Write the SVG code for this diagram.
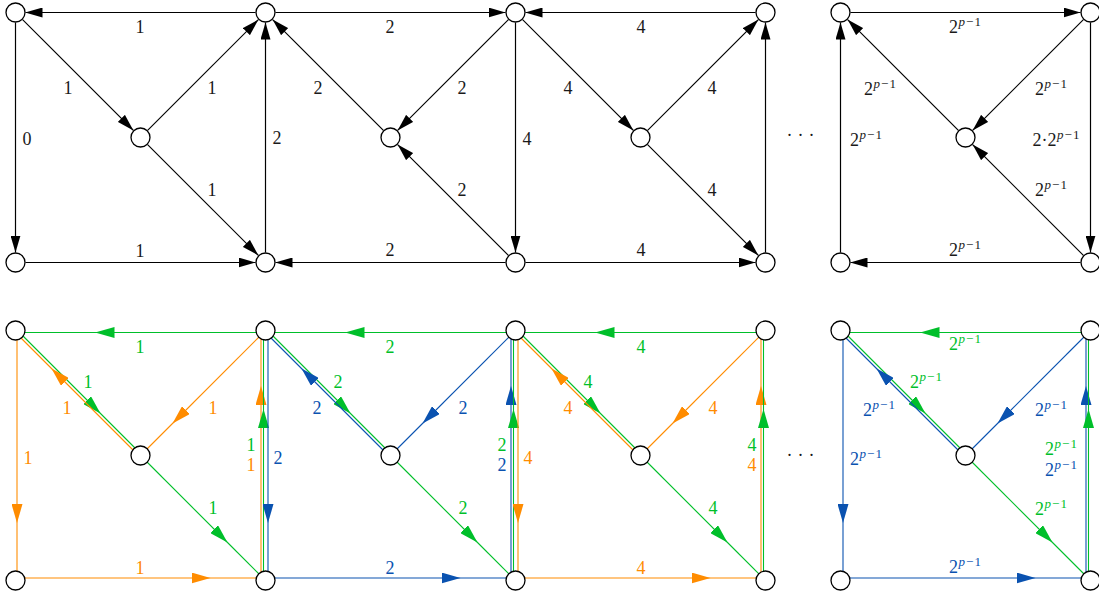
<svg xmlns="http://www.w3.org/2000/svg" width="1099" height="597" viewBox="0 0 1099 597">
<style>
.n{fill:#fff;stroke:#000;stroke-width:1.3}
.e{fill:none;stroke:#000;stroke-width:1.2;marker-end:url(#ab)}
.g,.o,.b{fill:none;stroke-width:1.1}
.g{stroke:#00bf2a;marker-mid:url(#mg)}
.o{stroke:#ff8c00;marker-mid:url(#mo)}
.b{stroke:#0a52b0;marker-mid:url(#mb)}
.tg{fill:#00bf2a}.to{fill:#ff8c00}.tb{fill:#0a52b0}
</style>
<defs>
<marker id="ab" markerUnits="userSpaceOnUse" viewBox="0 0 17 10" markerWidth="17" markerHeight="10" refX="17" refY="5" orient="auto"><path d="M0,0 L17,5 L0,10 z" fill="#000"/></marker>
<marker id="mg" markerUnits="userSpaceOnUse" viewBox="0 0 19 11" markerWidth="19" markerHeight="11" refX="19" refY="5.5" orient="auto"><path d="M0,0 L19,5.5 L0,11 z" fill="#00bf2a"/></marker>
<marker id="mo" markerUnits="userSpaceOnUse" viewBox="0 0 19 11" markerWidth="19" markerHeight="11" refX="19" refY="5.5" orient="auto"><path d="M0,0 L19,5.5 L0,11 z" fill="#ff8c00"/></marker>
<marker id="mb" markerUnits="userSpaceOnUse" viewBox="0 0 19 11" markerWidth="19" markerHeight="11" refX="19" refY="5.5" orient="auto"><path d="M0,0 L19,5.5 L0,11 z" fill="#0a52b0"/></marker>
</defs>

<g id="connectors">
<path class="e" d="M255.5,12.5 L25.5,12.5"/>
<path class="e" d="M15.5,22.5 L15.5,252.5"/>
<path class="e" d="M22.6,19.6 L133.4,130.4"/>
<path class="e" d="M147.6,130.4 L258.4,19.6"/>
<path class="e" d="M147.6,144.6 L258.4,255.4"/>
<path class="e" d="M25.5,262.5 L255.5,262.5"/>
<path class="e" d="M265.5,252.5 L265.5,22.5"/>
<path class="e" d="M275.5,12.5 L505.5,12.5"/>
<path class="e" d="M383.4,130.4 L272.6,19.6"/>
<path class="e" d="M508.4,19.6 L397.6,130.4"/>
<path class="e" d="M508.4,255.4 L397.6,144.6"/>
<path class="e" d="M505.5,262.5 L275.5,262.5"/>
<path class="e" d="M515.5,22.5 L515.5,252.5"/>
<path class="e" d="M755.5,12.5 L525.5,12.5"/>
<path class="e" d="M522.6,19.6 L633.4,130.4"/>
<path class="e" d="M647.6,130.4 L758.4,19.6"/>
<path class="e" d="M647.6,144.6 L758.4,255.4"/>
<path class="e" d="M525.5,262.5 L755.5,262.5"/>
<path class="e" d="M765.5,252.5 L765.5,22.5"/>
<path class="e" d="M850.5,12.5 L1080.5,12.5"/>
<path class="e" d="M958.4,130.4 L847.6,19.6"/>
<path class="e" d="M1083.4,19.6 L972.6,130.4"/>
<path class="e" d="M1090.5,22.5 L1090.5,252.5"/>
<path class="e" d="M1083.4,255.4 L972.6,144.6"/>
<path class="e" d="M1080.5,262.5 L850.5,262.5"/>
<path class="e" d="M840.5,252.5 L840.5,22.5"/>

<path class="g" d="M265.5,332.5 L95.5,332.5 L15.5,332.5"/>
<path class="g" d="M16.5,329.5 L100.5,413.5 L141.5,454.5"/>
<path class="o" d="M139.5,456.5 L51.5,368.5 L14.5,331.5"/>
<path class="o" d="M17,330.5 L17,523 L17,580.5"/>
<path class="o" d="M15.5,578 L210.5,578 L265.5,578"/>
<path class="o" d="M265.5,330.5 L172.5,423.5 L140.5,455.5"/>
<path class="g" d="M140.5,455.5 L227.5,542.5 L265.5,580.5"/>
<path class="o" d="M261,580.5 L261,386 L261,330.5"/>
<path class="g" d="M263.5,580.5 L263.5,409 L263.5,330.5"/>
<path class="g" d="M515.5,332.5 L345.5,332.5 L265.5,332.5"/>
<path class="g" d="M266.5,329.5 L350.5,413.5 L391.5,454.5"/>
<path class="b" d="M389.5,456.5 L301.5,368.5 L264.5,331.5"/>
<path class="b" d="M268,330.5 L268,523 L268,580.5"/>
<path class="b" d="M265.5,578 L460.5,578 L515.5,578"/>
<path class="b" d="M515.5,330.5 L422.5,423.5 L390.5,455.5"/>
<path class="g" d="M390.5,455.5 L477.5,542.5 L515.5,580.5"/>
<path class="b" d="M511,580.5 L511,386 L511,330.5"/>
<path class="g" d="M513.5,580.5 L513.5,409 L513.5,330.5"/>
<path class="g" d="M765.5,332.5 L595.5,332.5 L515.5,332.5"/>
<path class="g" d="M516.5,329.5 L600.5,413.5 L641.5,454.5"/>
<path class="o" d="M639.5,456.5 L551.5,368.5 L514.5,331.5"/>
<path class="o" d="M518,330.5 L518,523 L518,580.5"/>
<path class="o" d="M515.5,578 L710.5,578 L765.5,578"/>
<path class="o" d="M765.5,330.5 L672.5,423.5 L640.5,455.5"/>
<path class="g" d="M640.5,455.5 L727.5,542.5 L765.5,580.5"/>
<path class="o" d="M761,580.5 L761,386 L761,330.5"/>
<path class="g" d="M763.5,580.5 L763.5,409 L763.5,330.5"/>
<path class="g" d="M1090.5,332.5 L920.5,332.5 L840.5,332.5"/>
<path class="g" d="M841.5,329.5 L925.5,413.5 L966.5,454.5"/>
<path class="b" d="M964.5,456.5 L876.5,368.5 L839.5,331.5"/>
<path class="b" d="M843,330.5 L843,523 L843,580.5"/>
<path class="b" d="M840.5,578 L1035.5,578 L1090.5,578"/>
<path class="b" d="M1090.5,330.5 L997.5,423.5 L965.5,455.5"/>
<path class="g" d="M965.5,455.5 L1052.5,542.5 L1090.5,580.5"/>
<path class="b" d="M1086,580.5 L1086,386 L1086,330.5"/>
<path class="g" d="M1088.5,580.5 L1088.5,409 L1088.5,330.5"/>
</g>

<g id="labels" font-family="'Liberation Serif', 'DejaVu Serif', serif" font-size="18" text-anchor="middle" fill="#1a1a1a">
<text x="140" y="32.5">1</text>
<text x="27" y="144.5">0</text>
<text x="68" y="93.5">1</text>
<text x="212" y="93.5">1</text>
<text x="212" y="195.5">1</text>
<text x="140" y="256.5">1</text>
<text x="277" y="143.5">2</text>
<text x="390" y="32.5">2</text>
<text x="318" y="93.5">2</text>
<text x="462" y="93.5">2</text>
<text x="462" y="195.5">2</text>
<text x="390" y="255.5">2</text>
<text x="527" y="144.5">4</text>
<text x="641" y="32.5">4</text>
<text x="568" y="93.5">4</text>
<text x="712" y="93.5">4</text>
<text x="712" y="195.5">4</text>
<text x="641" y="255.5">4</text>
<text x="803" y="141" letter-spacing="5">···</text>
<text x="965" y="33">2<tspan font-size="13" dy="-7.5"><tspan font-style="italic" dx="0.5">p</tspan><tspan dx="1">−</tspan><tspan dx="1">1</tspan></tspan></text>
<text x="880" y="95">2<tspan font-size="13" dy="-7.5"><tspan font-style="italic" dx="0.5">p</tspan><tspan dx="1">−</tspan><tspan dx="1">1</tspan></tspan></text>
<text x="1051" y="95">2<tspan font-size="13" dy="-7.5"><tspan font-style="italic" dx="0.5">p</tspan><tspan dx="1">−</tspan><tspan dx="1">1</tspan></tspan></text>
<text x="866" y="146">2<tspan font-size="13" dy="-7.5"><tspan font-style="italic" dx="0.5">p</tspan><tspan dx="1">−</tspan><tspan dx="1">1</tspan></tspan></text>
<text x="1056" y="146">2·2<tspan font-size="13" dy="-7.5"><tspan font-style="italic" dx="0.5">p</tspan><tspan dx="1">−</tspan><tspan dx="1">1</tspan></tspan></text>
<text x="1051" y="196">2<tspan font-size="13" dy="-7.5"><tspan font-style="italic" dx="0.5">p</tspan><tspan dx="1">−</tspan><tspan dx="1">1</tspan></tspan></text>
<text x="965" y="256">2<tspan font-size="13" dy="-7.5"><tspan font-style="italic" dx="0.5">p</tspan><tspan dx="1">−</tspan><tspan dx="1">1</tspan></tspan></text>

<text class="tg" x="140" y="352.5">1</text>
<text class="tg" x="88" y="387.5">1</text>
<text class="to" x="67" y="413.5">1</text>
<text class="to" x="213" y="413.5">1</text>
<text class="to" x="28" y="463.5">1</text>
<text class="tg" x="213" y="513.5">1</text>
<text class="to" x="140" y="573.5">1</text>
<text class="tg" x="251" y="451">1</text>
<text class="to" x="251" y="471">1</text>
<text class="tb" x="278" y="463.5">2</text>
<text class="tg" x="390" y="352.5">2</text>
<text class="tg" x="338" y="387.5">2</text>
<text class="tb" x="317" y="413.5">2</text>
<text class="tb" x="463" y="413.5">2</text>
<text class="tg" x="463" y="513.5">2</text>
<text class="tb" x="390" y="573.5">2</text>
<text class="tg" x="502" y="451">2</text>
<text class="tb" x="502" y="471">2</text>
<text class="to" x="528" y="463.5">4</text>
<text class="tg" x="641" y="352.5">4</text>
<text class="tg" x="588" y="387.5">4</text>
<text class="to" x="568" y="413.5">4</text>
<text class="to" x="713" y="413.5">4</text>
<text class="tg" x="713" y="513.5">4</text>
<text class="to" x="641" y="573.5">4</text>
<text class="tg" x="752" y="451">4</text>
<text class="to" x="752" y="471">4</text>
<text x="803" y="461" letter-spacing="5">···</text>
<text class="tg" x="965" y="350">2<tspan font-size="13" dy="-7.5"><tspan font-style="italic" dx="0.5">p</tspan><tspan dx="1">−</tspan><tspan dx="1">1</tspan></tspan></text>
<text class="tg" x="926" y="388">2<tspan font-size="13" dy="-7.5"><tspan font-style="italic" dx="0.5">p</tspan><tspan dx="1">−</tspan><tspan dx="1">1</tspan></tspan></text>
<text class="tb" x="879" y="416">2<tspan font-size="13" dy="-7.5"><tspan font-style="italic" dx="0.5">p</tspan><tspan dx="1">−</tspan><tspan dx="1">1</tspan></tspan></text>
<text class="tb" x="1051" y="416">2<tspan font-size="13" dy="-7.5"><tspan font-style="italic" dx="0.5">p</tspan><tspan dx="1">−</tspan><tspan dx="1">1</tspan></tspan></text>
<text class="tb" x="866" y="465">2<tspan font-size="13" dy="-7.5"><tspan font-style="italic" dx="0.5">p</tspan><tspan dx="1">−</tspan><tspan dx="1">1</tspan></tspan></text>
<text class="tg" x="1061" y="455">2<tspan font-size="13" dy="-7.5"><tspan font-style="italic" dx="0.5">p</tspan><tspan dx="1">−</tspan><tspan dx="1">1</tspan></tspan></text>
<text class="tb" x="1061" y="476">2<tspan font-size="13" dy="-7.5"><tspan font-style="italic" dx="0.5">p</tspan><tspan dx="1">−</tspan><tspan dx="1">1</tspan></tspan></text>
<text class="tg" x="1051" y="515">2<tspan font-size="13" dy="-7.5"><tspan font-style="italic" dx="0.5">p</tspan><tspan dx="1">−</tspan><tspan dx="1">1</tspan></tspan></text>
<text class="tb" x="965" y="573">2<tspan font-size="13" dy="-7.5"><tspan font-style="italic" dx="0.5">p</tspan><tspan dx="1">−</tspan><tspan dx="1">1</tspan></tspan></text>
</g>

<g id="nodes">
<g id="t1"><circle class="n" cx="15.5" cy="12.5" r="9.5"/></g>
<g id="t2"><circle class="n" cx="265.5" cy="12.5" r="9.5"/></g>
<g id="t3"><circle class="n" cx="515.5" cy="12.5" r="9.5"/></g>
<g id="t4"><circle class="n" cx="765.5" cy="12.5" r="9.5"/></g>
<g id="t5"><circle class="n" cx="840.5" cy="12.5" r="9.5"/></g>
<g id="t6"><circle class="n" cx="1090.5" cy="12.5" r="9.5"/></g>
<g id="tc1"><circle class="n" cx="140.5" cy="137.5" r="9.5"/></g>
<g id="tc2"><circle class="n" cx="390.5" cy="137.5" r="9.5"/></g>
<g id="tc3"><circle class="n" cx="640.5" cy="137.5" r="9.5"/></g>
<g id="tc4"><circle class="n" cx="965.5" cy="137.5" r="9.5"/></g>
<g id="tb1"><circle class="n" cx="15.5" cy="262.5" r="9.5"/></g>
<g id="tb2"><circle class="n" cx="265.5" cy="262.5" r="9.5"/></g>
<g id="tb3"><circle class="n" cx="515.5" cy="262.5" r="9.5"/></g>
<g id="tb4"><circle class="n" cx="765.5" cy="262.5" r="9.5"/></g>
<g id="tb5"><circle class="n" cx="840.5" cy="262.5" r="9.5"/></g>
<g id="tb6"><circle class="n" cx="1090.5" cy="262.5" r="9.5"/></g>
<g id="b1"><circle class="n" cx="15.5" cy="330.5" r="9.5"/></g>
<g id="b2"><circle class="n" cx="265.5" cy="330.5" r="9.5"/></g>
<g id="b3"><circle class="n" cx="515.5" cy="330.5" r="9.5"/></g>
<g id="b4"><circle class="n" cx="765.5" cy="330.5" r="9.5"/></g>
<g id="b5"><circle class="n" cx="840.5" cy="330.5" r="9.5"/></g>
<g id="b6"><circle class="n" cx="1090.5" cy="330.5" r="9.5"/></g>
<g id="bc1"><circle class="n" cx="140.5" cy="455.5" r="9.5"/></g>
<g id="bc2"><circle class="n" cx="390.5" cy="455.5" r="9.5"/></g>
<g id="bc3"><circle class="n" cx="640.5" cy="455.5" r="9.5"/></g>
<g id="bc4"><circle class="n" cx="965.5" cy="455.5" r="9.5"/></g>
<g id="bb1"><circle class="n" cx="15.5" cy="580.5" r="9.5"/></g>
<g id="bb2"><circle class="n" cx="265.5" cy="580.5" r="9.5"/></g>
<g id="bb3"><circle class="n" cx="515.5" cy="580.5" r="9.5"/></g>
<g id="bb4"><circle class="n" cx="765.5" cy="580.5" r="9.5"/></g>
<g id="bb5"><circle class="n" cx="840.5" cy="580.5" r="9.5"/></g>
<g id="bb6"><circle class="n" cx="1090.5" cy="580.5" r="9.5"/></g>
</g>
</svg>
